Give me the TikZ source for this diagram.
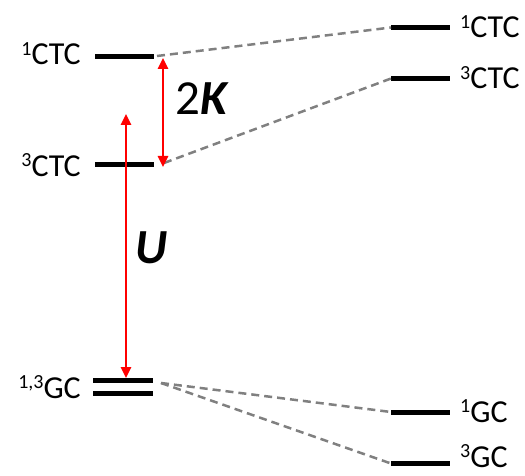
\documentclass[tikz,border=0pt]{standalone}
\usepackage{fontspec}
\setmainfont{Carlito}
\usetikzlibrary{arrows.meta}
\newcommand{\upnum}[1]{\raisebox{9.5pt}{\fontsize{20}{20}\selectfont #1}}
\tikzset{
  level/.style={line width=5pt},
  conn/.style={gray, line width=2.5pt, dash pattern=on 8pt off 5pt},
  gap/.style={red, line width=2.5pt, {Triangle[length=11pt,width=10pt]}-{Triangle[length=11pt,width=10pt]}},
  lbl/.style={font=\fontsize{32}{32}\selectfont, inner sep=0pt},
  big/.style={font=\fontsize{49}{49}\selectfont, inner sep=0pt}
}
\begin{document}
\begin{tikzpicture}[x=1pt,y=-1pt]
\useasboundingbox (0,0) rectangle (525,476);
% left levels
\coordinate (l1a) at (95,57);   \coordinate (l1b) at (154,57);
\coordinate (l3a) at (95,164.5); \coordinate (l3b) at (154,164.5);
\coordinate (g1a) at (93,380);  \coordinate (g1b) at (153,380);
\coordinate (g2a) at (93,393);  \coordinate (g2b) at (153,393);
% right levels
\coordinate (r1a) at (391,27.5); \coordinate (r1b) at (450,27.5);
\coordinate (r3a) at (391,78.5); \coordinate (r3b) at (450,78.5);
\coordinate (rg1a) at (391,412); \coordinate (rg1b) at (450,412);
\coordinate (rg3a) at (391,463.5); \coordinate (rg3b) at (450,463.5);
\foreach \a/\b in {l1a/l1b,l3a/l3b,g1a/g1b,g2a/g2b,r1a/r1b,r3a/r3b,rg1a/rg1b,rg3a/rg3b}
  \draw[level] (\a) -- (\b);
% dashed connectors
\coordinate (d1) at (157,56);
\coordinate (d3) at (164,163);
\coordinate (dg) at (161,383);
\draw[conn] (d1) -- (r1a);
\draw[conn] (d3) -- (r3a);
\draw[conn] (dg) -- (rg1a);
\draw[conn] (dg) -- (rg3a);
% arrows
\coordinate (k1) at (163,58); \coordinate (k2) at (163,167);
\coordinate (u1) at (126,114); \coordinate (u2) at (126,378);
\draw[gap] (k1) -- (k2);
\draw[gap] (u1) -- (u2);
% labels
\node[lbl, anchor=base east] (t1) at (81,65) {\upnum{1}CTC};
\node[lbl, anchor=base east] (t3) at (81,176) {\upnum{3}CTC};
\node[lbl, anchor=base east] (tg) at (81,398) {\upnum{1,3}GC};
\node[lbl, anchor=base west] (s1) at (460,38) {\upnum{1}CTC};
\node[lbl, anchor=base west] (s3) at (460,89) {\upnum{3}CTC};
\node[lbl, anchor=base west] (sg1) at (460,422) {\upnum{1}GC};
\node[lbl, anchor=base west] (sg3) at (460,467) {\upnum{3}GC};
\node[big, anchor=base west] (kk) at (175,115) {2\textbf{\textit{K}}};
\node[big, anchor=base west] (uu) at (135,263) {\textbf{\textit{U}}};
\end{tikzpicture}
\end{document}
